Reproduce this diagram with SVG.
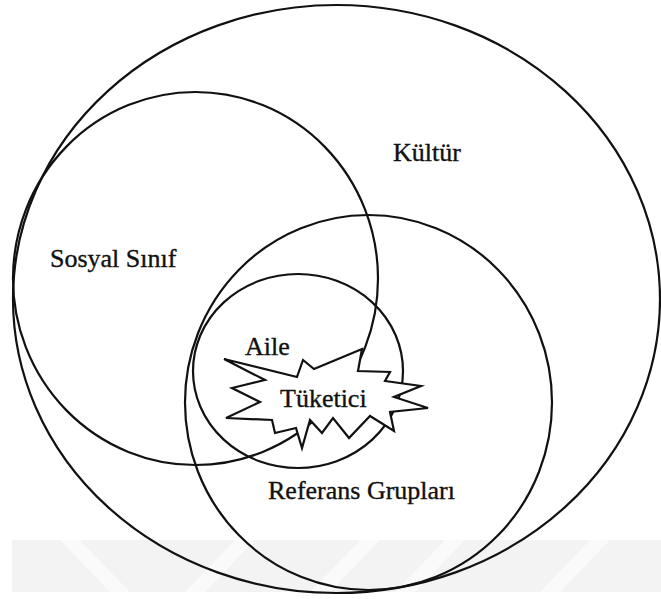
<svg xmlns="http://www.w3.org/2000/svg" width="661" height="599" viewBox="0 0 661 599">
  <style>
    .ring { fill: none; stroke: #111; stroke-width: 2.2; }
    .burst { fill: #fff; stroke: #111; stroke-width: 2.2; stroke-linejoin: miter; }
    .lbl { font-family: 'Liberation Serif', 'DejaVu Serif', 'Times New Roman', serif; font-size: 26px; fill: #111; stroke: #111; stroke-width: 0.35; }
    .wm { fill: #f3f3f3; }
    .wm2 { fill: #fafafa; }
  </style>
  <rect width="661" height="599" fill="#fff"/>
  <g id="watermark">
    <rect class="wm" x="12" y="540" width="649" height="52"/>
    <polygon class="wm2" points="60,540 80,540 130,592 110,592"/>
    <polygon class="wm2" points="235,540 255,540 205,592 185,592"/>
    <polygon class="wm2" points="360,540 380,540 330,592 310,592"/>
    <polygon class="wm2" points="445,540 465,540 415,592 395,592"/>
    <polygon class="wm2" points="590,540 610,540 560,592 540,592"/>
  </g>
  <g id="connectors"></g>
  <g id="kultur">
    <ellipse class="ring" cx="336.5" cy="299" rx="323.5" ry="294"/>
    <text class="lbl" x="393" y="161">Kültür</text>
  </g>
  <g id="sosyal-sinif">
    <ellipse class="ring" cx="195.5" cy="278.5" rx="182.5" ry="186.5"/>
    <text class="lbl" x="50" y="267">Sosyal Sınıf</text>
  </g>
  <g id="referans-gruplari">
    <ellipse class="ring" cx="368.5" cy="402.5" rx="183.5" ry="187.5"/>
    <text class="lbl" x="268" y="499">Referans Grupları</text>
  </g>
  <g id="aile">
    <ellipse class="ring" cx="298" cy="371" rx="105" ry="97"/>
    <text class="lbl" x="245" y="355">Aile</text>
  </g>
  <g id="tuketici">
    <polygon class="burst" points="224,359 297,377 303,360 314,369 362,349 358,371 390,372 385,381 421,386 394,397 428,408 390,412 394,431 370,416 349,438 333,418 322,433 310,420 302,448 296,428 275,433 272,420 226,418 260,402 232,388 265,380"/>
    <text class="lbl" x="280" y="407">Tüketici</text>
  </g>
</svg>
